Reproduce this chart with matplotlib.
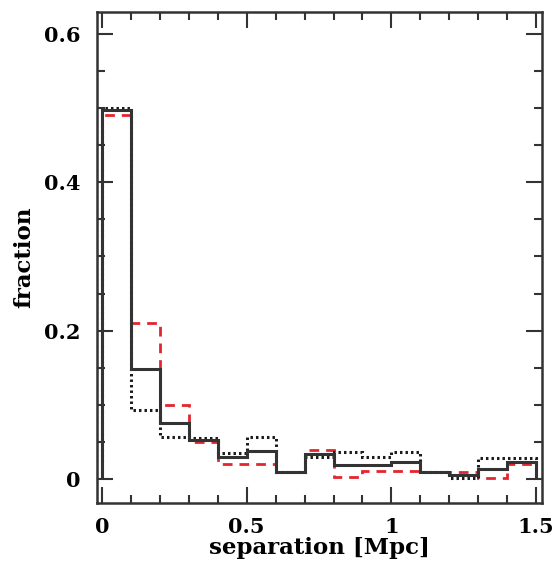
import numpy as np
import matplotlib
matplotlib.use("Agg")
import matplotlib.pyplot as plt
from matplotlib.ticker import MultipleLocator, FuncFormatter

# --- data: fraction of pairs per 0.1 Mpc separation bin ---------------------
bin_edges = np.round(np.arange(0.0, 1.51, 0.1), 2)

frac_solid = [0.497, 0.148, 0.076, 0.053, 0.030, 0.038, 0.010, 0.033,
              0.019, 0.019, 0.023, 0.010, 0.005, 0.014, 0.023]
frac_dotted = [0.500, 0.093, 0.056, 0.055, 0.035, 0.056, 0.010, 0.030,
               0.037, 0.029, 0.037, 0.010, 0.001, 0.028, 0.028]
frac_dashed = [0.491, 0.210, 0.100, 0.050, 0.020, 0.020, 0.010, 0.039,
               0.002, 0.011, 0.011, 0.010, 0.009, 0.001, 0.020]

x_ticks = [0, 0.5, 1, 1.5]
y_ticks = [0, 0.2, 0.4, 0.6]

# --- figure -----------------------------------------------------------------
fig = plt.figure(figsize=(5.56, 5.66), dpi=100)
ax = fig.add_axes([0.1745, 0.1113, 0.8005, 0.8675])

ax.stairs(frac_dashed, bin_edges, baseline=0, color="#e3262e", lw=2.0,
          ls=(0, (3.5, 2.5)))
ax.stairs(frac_dotted, bin_edges, baseline=0, color="#1a1a1a", lw=2.2,
          ls=(0, (0.8, 1.0)))
ax.stairs(frac_solid, bin_edges, baseline=0, color="#333333", lw=2.2)

ax.set_xlim(-0.0173, 1.5207)
ax.set_ylim(-0.0324, 0.6296)

ax.set_xticks(x_ticks)
ax.set_yticks(y_ticks)
ax.xaxis.set_minor_locator(MultipleLocator(0.1))
ax.yaxis.set_minor_locator(MultipleLocator(0.05))
fmt = FuncFormatter(lambda v, p: f"{v:g}")
ax.xaxis.set_major_formatter(fmt)
ax.yaxis.set_major_formatter(fmt)

ax.tick_params(which="both", direction="in", top=True, right=True,
               color="#333333", width=1.5)
ax.tick_params(which="major", length=11.5)
ax.tick_params(which="minor", length=5.8)
ax.tick_params(axis="x", which="major", pad=10)
ax.tick_params(axis="y", which="major", pad=12)

for sp in ax.spines.values():
    sp.set_linewidth(1.8)
    sp.set_color("#333333")

for lab in ax.get_xticklabels() + ax.get_yticklabels():
    lab.set_fontfamily("DejaVu Serif")
    lab.set_fontweight("bold")
    lab.set_fontsize(15)

ax.set_xlabel("separation [Mpc]", family="DejaVu Serif", weight="bold",
              fontsize=16.5, labelpad=0)
ax.set_ylabel("fraction", family="DejaVu Serif", weight="bold",
              fontsize=16.5, labelpad=6)

fig.savefig("out.png", dpi=100)
